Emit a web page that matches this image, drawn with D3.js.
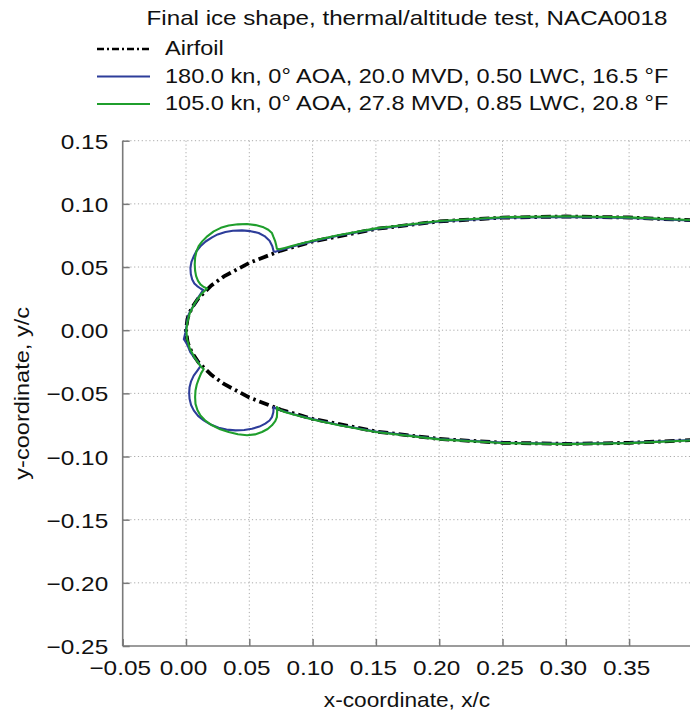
<!DOCTYPE html>
<html>
<head>
<meta charset="utf-8">
<script src="https://cdn.jsdelivr.net/npm/d3@7"></script>
<style>
  html, body { margin: 0; padding: 0; background: #fff; }
  svg { display: block; font-family: "Liberation Sans", Arial, sans-serif; }
</style>
</head>
<body>
<svg id="chart" width="690" height="713"></svg>
<script>
// ---------------- data ----------------
const titleText = "Final ice shape, thermal/altitude test, NACA0018";
const seriesNames = [
  "Airfoil",
  "180.0 kn, 0° AOA, 20.0 MVD, 0.50 LWC, 16.5 °F",
  "105.0 kn, 0° AOA, 27.8 MVD, 0.85 LWC, 20.8 °F"
];
const xTicks = [-0.05, 0.00, 0.05, 0.10, 0.15, 0.20, 0.25, 0.30, 0.35];
const yTicks = [0.15, 0.10, 0.05, 0.00, -0.05, -0.10, -0.15, -0.20, -0.25];

// NACA0018 contour (x/c, y/c)
const airfoil = [
  [0.45, 0.0837], [0.40, 0.0870], [0.35, 0.0892], [0.30, 0.0900], [0.25, 0.0891],
  [0.20, 0.0861], [0.15, 0.0802], [0.10, 0.0702], [0.075, 0.0630], [0.05, 0.0533],
  [0.03, 0.0426], [0.02, 0.0354], [0.01, 0.0256], [0.005, 0.0183], [0.0025, 0.0131],
  [0.0012, 0.0091], [0.0, 0.0],
  [0.0012, -0.0091], [0.0025, -0.0131], [0.005, -0.0183], [0.01, -0.0256], [0.02, -0.0354],
  [0.03, -0.0426], [0.05, -0.0533], [0.075, -0.0630], [0.10, -0.0702], [0.15, -0.0802],
  [0.20, -0.0861], [0.25, -0.0891], [0.30, -0.0900], [0.35, -0.0892], [0.40, -0.0870],
  [0.45, -0.0837]
];

// 180 kn ice shape (blue)
const ice180 = [
  [0.45, 0.0835], [0.40, 0.0868], [0.35, 0.0889], [0.30, 0.0897], [0.25, 0.0889],
  [0.20, 0.0860], [0.15, 0.0802], [0.12, 0.0748], [0.10, 0.0703], [0.085, 0.0665],
  [0.075, 0.0634], [0.0705, 0.0620], [0.0692, 0.0625], [0.0682, 0.0665], [0.0660, 0.0708],
  [0.0620, 0.0745], [0.0574, 0.0769], [0.0510, 0.0784], [0.0442, 0.0790], [0.0370, 0.0787],
  [0.0311, 0.0777], [0.0250, 0.0758], [0.0206, 0.0735], [0.0155, 0.0702], [0.0114, 0.0664],
  [0.0082, 0.0625], [0.0061, 0.0585], [0.0043, 0.0540], [0.0035, 0.0494], [0.0038, 0.0445],
  [0.0049, 0.0402], [0.0066, 0.0370], [0.0088, 0.0349], [0.0115, 0.0330], [0.0135, 0.0318],
  [0.0100, 0.0265], [0.0075, 0.0218], [0.0045, 0.0170], [0.0022, 0.0126], [0.0010, 0.0080],
  [0.0004, 0.0034], [-0.0005, -0.0020], [-0.0017, -0.0071], [-0.0005, -0.0090], [0.0010, -0.0115],
  [0.0035, -0.0176], [0.0060, -0.0210], [0.0088, -0.0241], [0.0115, -0.0285],
  [0.0090, -0.0320], [0.0061, -0.0360], [0.0040, -0.0405], [0.0028, -0.0451], [0.0025, -0.0497],
  [0.0028, -0.0543], [0.0040, -0.0592], [0.0061, -0.0635], [0.0095, -0.0678], [0.0140, -0.0714],
  [0.0195, -0.0747], [0.0258, -0.0772], [0.0320, -0.0787], [0.0390, -0.0793], [0.0460, -0.0790],
  [0.0521, -0.0780], [0.0580, -0.0763], [0.0626, -0.0740], [0.0660, -0.0715], [0.0679, -0.0688],
  [0.0690, -0.0650], [0.0692, -0.0609], [0.0715, -0.0622], [0.075, -0.0634], [0.085, -0.0665],
  [0.10, -0.0704], [0.12, -0.0748], [0.15, -0.0803], [0.20, -0.0861], [0.25, -0.0890],
  [0.30, -0.0899], [0.35, -0.0891], [0.40, -0.0869], [0.45, -0.0836]
];

// 105 kn ice shape (green)
const ice105 = [
  [0.45, 0.0840], [0.40, 0.0872], [0.35, 0.0893], [0.30, 0.0902], [0.25, 0.0894],
  [0.20, 0.0864], [0.15, 0.0806], [0.12, 0.0752], [0.10, 0.0708], [0.085, 0.0670],
  [0.078, 0.0650], [0.0735, 0.0640], [0.0718, 0.0645], [0.0712, 0.0675], [0.0705, 0.0703],
  [0.0690, 0.0740], [0.0679, 0.0769], [0.0650, 0.0795], [0.0613, 0.0814], [0.0550, 0.0832],
  [0.0482, 0.0840], [0.0410, 0.0838], [0.0337, 0.0829], [0.0275, 0.0810], [0.0219, 0.0782],
  [0.0170, 0.0745], [0.0128, 0.0703], [0.0100, 0.0665], [0.0083, 0.0625], [0.0072, 0.0575],
  [0.0069, 0.0520], [0.0072, 0.0470], [0.0080, 0.0428], [0.0095, 0.0390], [0.0114, 0.0362],
  [0.0140, 0.0342], [0.0167, 0.0331],
  [0.0140, 0.0305], [0.0120, 0.0285], [0.0070, 0.0215], [0.0030, 0.0135], [0.0010, 0.0060],
  [0.0003, 0.0000], [0.0008, -0.0070], [0.0030, -0.0145], [0.0070, -0.0220], [0.0115, -0.0285],
  [0.0140, -0.0307],
  [0.0120, -0.0340], [0.0101, -0.0386], [0.0085, -0.0430], [0.0075, -0.0478], [0.0072, -0.0530],
  [0.0075, -0.0583], [0.0090, -0.0632], [0.0114, -0.0675], [0.0155, -0.0718], [0.0206, -0.0753],
  [0.0270, -0.0785], [0.0337, -0.0806], [0.0410, -0.0824], [0.0482, -0.0832], [0.0545, -0.0825],
  [0.0600, -0.0806], [0.0645, -0.0782], [0.0679, -0.0753], [0.0705, -0.0720], [0.0718, -0.0688],
  [0.0720, -0.0645], [0.0718, -0.0609], [0.0740, -0.0630], [0.078, -0.0648], [0.085, -0.0668],
  [0.10, -0.0707], [0.12, -0.0751], [0.15, -0.0806], [0.20, -0.0864], [0.25, -0.0893],
  [0.30, -0.0902], [0.35, -0.0894], [0.40, -0.0872], [0.45, -0.0840]
];

// ---------------- layout / style ----------------
const W = 690, H = 713;
const plotLeft = 122.7, plotRight = 692.4, plotTop = 140.7, plotBottom = 646;
const FONT = 21;
const colors = { airfoil: "#000000", blue: "#2d3d9a", green: "#1f9e2c" };

const svg = d3.select("#chart");
const x = d3.scaleLinear().domain([-0.05, 0.40]).range([plotLeft, plotRight]);
const y = d3.scaleLinear().domain([-0.25, 0.15]).range([plotBottom, plotTop]);

svg.append("defs").append("clipPath").attr("id", "clip")
  .append("rect").attr("x", plotLeft).attr("y", plotTop - 2)
  .attr("width", W - plotLeft).attr("height", plotBottom - plotTop + 2);

// grid
const grid = svg.append("g");
grid.selectAll("line.vg").data(xTicks.filter(d => d > -0.05)).join("line")
  .attr("x1", d => x(d)).attr("x2", d => x(d))
  .attr("y1", plotTop).attr("y2", plotBottom)
  .attr("stroke", "#ababab").attr("stroke-width", 1).attr("stroke-dasharray", "1.2,2.6");
grid.selectAll("line.hg").data(yTicks.filter(d => d > -0.25)).join("line")
  .attr("x1", plotLeft).attr("x2", W)
  .attr("y1", d => y(d)).attr("y2", d => y(d))
  .attr("stroke", "#ababab").attr("stroke-width", 1).attr("stroke-dasharray", "1.2,2.6");

// axes (inward ticks)
const fmt = d => d3.format(".2f")(d).replace("-", "\u2212");
const xAxis = d3.axisBottom(x).tickValues(xTicks).tickSizeInner(-7).tickSizeOuter(0)
  .tickPadding(14).tickFormat(fmt);
const yAxis = d3.axisLeft(y).tickValues(yTicks).tickSizeInner(-7).tickSizeOuter(0)
  .tickPadding(14.5).tickFormat(fmt);

const gx = svg.append("g").attr("transform", `translate(0,${plotBottom})`).call(xAxis);
const gy = svg.append("g").attr("transform", `translate(${plotLeft},0)`).call(yAxis);
[gx, gy].forEach(g => {
  g.select(".domain").remove();
  g.selectAll(".tick line").attr("stroke", "#7a7a7a").attr("stroke-width", 1.5);
  g.selectAll(".tick text").attr("class", "stretch").attr("fill", "#111").style("font-size", FONT + "px")
    .style("font-family", "'Liberation Sans', Arial, sans-serif");
});
gx.selectAll(".tick text").attr("dy", "0.71em").attr("dx", -3);
gy.selectAll(".tick text").attr("dy", "0.36em");

// axis lines
svg.append("line").attr("x1", plotLeft).attr("x2", plotLeft).attr("y1", plotTop).attr("y2", plotBottom)
  .attr("stroke", "#7a7a7a").attr("stroke-width", 1.6);
svg.append("line").attr("x1", plotLeft).attr("x2", W).attr("y1", plotBottom).attr("y2", plotBottom)
  .attr("stroke", "#7a7a7a").attr("stroke-width", 1.6);

// data lines
const line = d3.line().x(d => x(d[0])).y(d => y(d[1]));
const plot = svg.append("g").attr("clip-path", "url(#clip)");
plot.append("path").datum(airfoil).attr("d", line).attr("fill", "none")
  .attr("stroke", colors.airfoil).attr("stroke-width", 3.8).attr("stroke-dasharray", "10,4,2.5,4");
plot.append("path").datum(ice180).attr("d", line).attr("fill", "none")
  .attr("stroke", colors.blue).attr("stroke-width", 2.1).attr("stroke-linejoin", "round");
plot.append("path").datum(ice105).attr("d", line).attr("fill", "none")
  .attr("stroke", colors.green).attr("stroke-width", 2.1).attr("stroke-linejoin", "round");

// title
svg.append("text").attr("data-s", 1.15).attr("x", 407).attr("y", 25)
  .attr("text-anchor", "middle").style("font-size", FONT + "px").attr("fill", "#111")
  .text(titleText);

// legend
const legendBase = [55, 82.5, 110];
const legendStyles = [
  { stroke: colors.airfoil, width: 2.4, dash: "7,3,2,3" },
  { stroke: colors.blue, width: 2, dash: null },
  { stroke: colors.green, width: 2, dash: null }
];
const leg = svg.append("g");
seriesNames.forEach((name, i) => {
  const yb = legendBase[i];
  leg.append("line").attr("x1", 97).attr("x2", 150).attr("y1", yb - 6).attr("y2", yb - 6)
    .attr("stroke", legendStyles[i].stroke).attr("stroke-width", legendStyles[i].width)
    .attr("stroke-dasharray", legendStyles[i].dash);
  leg.append("text").attr("data-s", 1.12).attr("x", 165).attr("y", yb)
    .style("font-size", FONT + "px").attr("fill", "#111").text(name);
});

// axis labels
svg.append("text").attr("data-s", 1.08).attr("x", 407).attr("y", 707)
  .attr("text-anchor", "middle").style("font-size", FONT + "px").attr("fill", "#111")
  .text("x-coordinate, x/c");
svg.append("text").attr("data-s", 1.12)
  .attr("transform", `translate(29,${(plotTop + plotBottom) / 2}) rotate(-90)`)
  .attr("text-anchor", "middle").style("font-size", FONT + "px").attr("fill", "#111")
  .text("y-coordinate, y/c");

// horizontal stretch to match the reference's wide lettering
svg.selectAll("text").each(function () {
  const s = +(this.getAttribute("data-s") || 1.16);
  const w = this.getComputedTextLength();
  d3.select(this).attr("textLength", (w * s).toFixed(1)).attr("lengthAdjust", "spacingAndGlyphs");
});
</script>
</body>
</html>
